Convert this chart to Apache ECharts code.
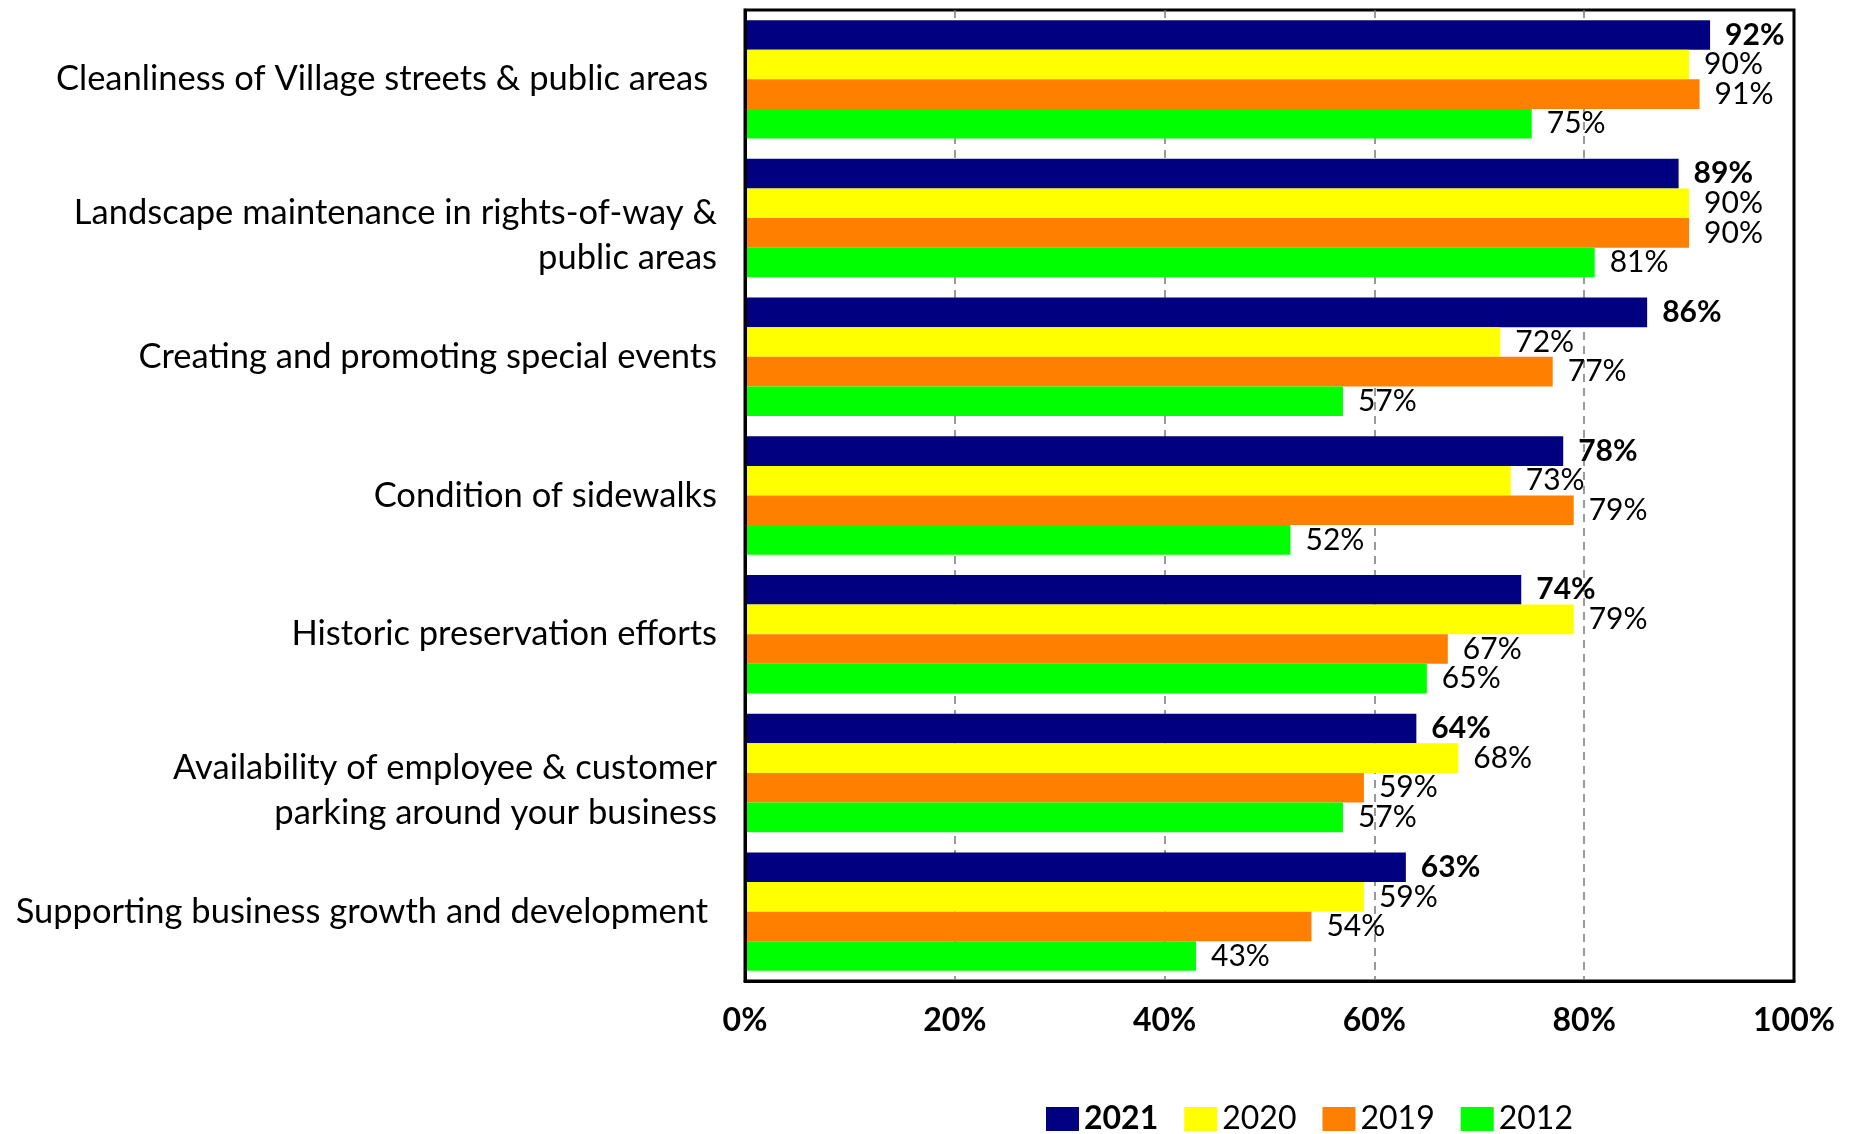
<!DOCTYPE html>
<html>
<head>
<meta charset="utf-8">
<title>Satisfaction with Village services</title>
<script src="https://cdn.jsdelivr.net/npm/echarts/dist/echarts.min.js"></script>
<style>
  html, body { margin: 0; padding: 0; background: #fff; }
  #chart { width: 1858px; height: 1134px; }
</style>
</head>
<body>
<div id="chart"></div>
<script>
// Service categories, top to bottom
const categories = [
  'Cleanliness of Village streets & public areas ',
  'Landscape maintenance in rights-of-way &\npublic areas',
  'Creating and promoting special events',
  'Condition of sidewalks',
  'Historic preservation efforts',
  'Availability of employee & customer\nparking around your business',
  'Supporting business growth and development '
];

// Survey years shown in the legend
const years = ['2021', '2020', '2019', '2012'];

// Percent satisfied, per year, in category order
const values2021 = [92, 89, 86, 78, 74, 64, 63];
const values2020 = [90, 90, 72, 73, 79, 68, 59];
const values2019 = [91, 90, 77, 79, 67, 59, 54];
const values2012 = [75, 81, 57, 52, 65, 57, 43];

// Value-axis ticks
const xTicks = [0, 20, 40, 60, 80, 100];

const seriesValues = [values2021, values2020, values2019, values2012];
const colors = ['#000080', '#FFFF00', '#FF8000', '#00FF00'];
const FONT = 'Lato, "Open Sans", sans-serif';

const chart = echarts.init(document.getElementById('chart'), null, { renderer: 'canvas' });

const series = years.map((year, i) => ({
  name: year,
  type: 'bar',
  data: seriesValues[i],
  itemStyle: { color: colors[i] },
  barGap: '0%',
  barCategoryGap: '14.6%',
  label: {
    show: true,
    position: 'right',
    distance: 15,
    formatter: '{c}%',
    color: '#000',
    fontFamily: FONT,
    fontSize: 30,
    fontWeight: i === 0 ? 'bold' : 'normal'
  }
}));

// Two-line category labels sit a little below the band centre
function categoryLabel(text) {
  const lines = text.split('\n');
  if (lines.length === 1) return '{s|' + text + '}';
  return lines.map(line => '{m|' + line + '}').join('\n');
}

const labelRich = {
  s: { fontFamily: FONT, fontSize: 34.5, lineHeight: 45, color: '#000' },
  m: { fontFamily: FONT, fontSize: 34.5, lineHeight: 45, color: '#000', padding: [34, 0, 0, 0] }
};

chart.setOption({
  animation: false,
  backgroundColor: '#fff',
  color: colors,
  textStyle: { fontFamily: FONT },
  grid: {
    left: 745,
    top: 10,
    width: 1049,
    height: 971,
    show: true,
    borderColor: '#000',
    borderWidth: 3,
    backgroundColor: 'transparent',
    containLabel: false
  },
  legend: {
    data: years,
    left: 1046,
    top: 1103,
    padding: 0,
    itemWidth: 33,
    itemHeight: 24,
    itemGap: 26,
    icon: 'rect',
    textStyle: {
      color: '#000',
      fontFamily: FONT,
      fontSize: 32,
      rich: { b: { fontWeight: 'bold', fontSize: 32, fontFamily: FONT, color: '#000' } }
    },
    formatter: name => (name === '2021' ? '{b|' + name + '}' : name)
  },
  xAxis: {
    type: 'value',
    min: xTicks[0],
    max: xTicks[xTicks.length - 1],
    interval: xTicks[1] - xTicks[0],
    axisLine: { show: true, lineStyle: { color: '#000', width: 3 } },
    axisTick: { show: false },
    axisLabel: {
      margin: 24,
      formatter: '{value}%',
      color: '#000',
      fontFamily: FONT,
      fontSize: 32,
      fontWeight: 'bold'
    },
    splitLine: {
      show: true,
      showMinLine: false,
      showMaxLine: false,
      lineStyle: { color: '#7a7a7a', width: 1.5, type: [8, 6] }
    }
  },
  yAxis: {
    type: 'category',
    data: categories,
    inverse: true,
    z: 10,
    axisLine: { show: true, lineStyle: { color: '#000', width: 3 } },
    axisTick: { show: false },
    splitLine: { show: false },
    axisLabel: {
      margin: 28,
      color: '#000',
      fontFamily: FONT,
      fontSize: 34.5,
      lineHeight: 45,
      align: 'right',
      formatter: categoryLabel,
      rich: labelRich
    }
  },
  series: series
});
</script>
</body>
</html>
